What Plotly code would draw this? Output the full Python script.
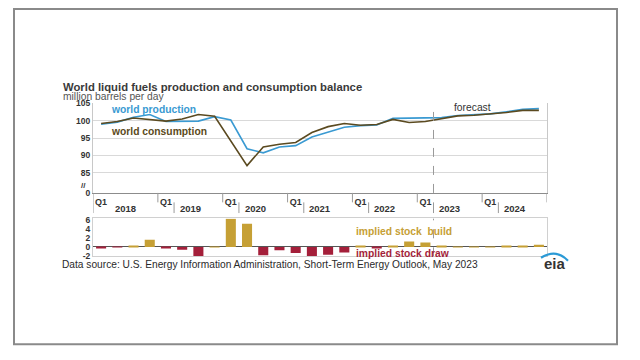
import plotly.graph_objects as go

# ---------------- data ----------------
years = [2018, 2019, 2020, 2021, 2022, 2023, 2024]
quarters = [f"{y}Q{q}" for y in years for q in (1, 2, 3, 4)]

production = [99.0, 99.6, 101.0, 101.8, 99.8, 99.9, 99.9, 101.2, 100.2, 91.9,
              90.7, 92.4, 92.8, 95.3, 96.7, 98.1, 98.6, 98.8, 100.7, 100.8,
              100.8, 100.9, 101.5, 101.7, 102.0, 102.6, 103.3, 103.5]
consumption = [99.2, 99.8, 100.8, 100.3, 99.9, 100.5, 101.8, 101.3, 94.0, 87.0,
               92.4, 93.2, 93.7, 96.6, 98.3, 99.2, 98.7, 98.9, 100.4, 99.5,
               99.8, 100.7, 101.4, 101.6, 101.9, 102.4, 103.0, 103.0]
stock_change = [-0.3, -0.05, 0.3, 1.6, -0.1, -0.6, -2.0, 0.1, 6.2, 5.1,
                -1.8, -0.7, -1.3, -2.0, -1.7, -1.2, 0.2, -0.3, 0.3, 1.2,
                1.0, 0.15, 0.05, 0.05, 0.05, 0.2, 0.3, 0.5]

upper_tickvals = [79.1, 85, 90, 95, 100, 105]
upper_ticktext = ["0", "85", "90", "95", "100", "105"]
lower_tickvals = [-2, 0, 2, 4, 6]
q1_ticks = [f"{y}Q1" for y in years]
forecast_start = 20.5  # between 2023Q1 and 2023Q2 (category index)

# ---------------- style ----------------
W, H = 640, 360
FONT = "Liberation Sans, Arial, sans-serif"
BLUE = "#3a9ad2"
BROWN = "#5b4a20"
GOLD = "#c6a035"
RED = "#a41f3a"
DARK = "#333333"


def X(p):
    return p / W


def Y(p):
    return 1 - p / H


fig = go.Figure()

fig.add_trace(go.Scatter(x=quarters, y=production, mode="lines",
                         line=dict(color=BLUE, width=1.6), xaxis="x", yaxis="y",
                         showlegend=False, hoverinfo="skip"))
fig.add_trace(go.Scatter(x=quarters, y=consumption, mode="lines",
                         line=dict(color=BROWN, width=1.6), xaxis="x", yaxis="y",
                         showlegend=False, hoverinfo="skip"))

bar_colors = [GOLD if v >= 0 else RED for v in stock_change]
fig.add_trace(go.Bar(x=quarters, y=stock_change, marker=dict(color=bar_colors, line=dict(width=0)),
                     width=0.62, xaxis="x2", yaxis="y2", showlegend=False, hoverinfo="skip"))

xdom = [X(93), X(547)]

fig.update_layout(
    width=W, height=H,
    margin=dict(l=0, r=0, t=0, b=0),
    paper_bgcolor="white", plot_bgcolor="white",
    font=dict(family=FONT, size=9, color=DARK),
    xaxis=dict(domain=xdom, type="category", categoryorder="array", categoryarray=quarters,
               range=[-0.5, 27.5], tickmode="array", tickvals=q1_ticks,
               ticktext=["<b>Q1</b>"] * len(q1_ticks), ticks="", showgrid=False,
               showline=True, linecolor="#8c8c8c", linewidth=1, mirror=False,
               tickfont=dict(size=9, color=DARK), anchor="y", zeroline=False),
    yaxis=dict(domain=[Y(193.3), Y(101.3)], range=[79.1, 105], tickmode="array",
               tickvals=upper_tickvals, ticktext=[f"<b>{t}</b>" for t in upper_ticktext],
               showgrid=True, gridcolor="#d9d9d9", gridwidth=1,
               showline=True, linecolor="#c8c8c8", linewidth=1, mirror=True,
               ticks="", tickfont=dict(size=8.5, color=DARK), anchor="x", zeroline=False),
    xaxis2=dict(domain=xdom, type="category", categoryorder="array", categoryarray=quarters,
                range=[-0.5, 27.5], showticklabels=False, ticks="", showgrid=False,
                showline=True, linecolor="#d0d0d0", mirror=True, anchor="y2", zeroline=False),
    yaxis2=dict(domain=[Y(258.5), Y(219.5)], range=[-2.05, 6.25], tickmode="array",
                tickvals=lower_tickvals, ticktext=[f"<b>{v}</b>" for v in lower_tickvals],
                showgrid=False, showline=True, linecolor="#d0d0d0", mirror=True,
                ticks="", tickfont=dict(size=8.5, color=DARK), anchor="x2",
                zeroline=True, zerolinecolor="#555555", zerolinewidth=1.2),
    bargap=0.3,
)

shapes = []
# outer frame
shapes.append(dict(type="rect", xref="paper", yref="paper", x0=X(14), x1=X(617), y0=Y(349), y1=Y(4),
                   line=dict(color="#8a8a8a", width=2), fillcolor="rgba(0,0,0,0)"))
# forecast dashed line in both panels
shapes.append(dict(type="line", xref="x", yref="y", x0=forecast_start, x1=forecast_start,
                   y0=79.1, y1=105, line=dict(color="#9a9a9a", width=1, dash="dash")))
shapes.append(dict(type="line", xref="x2", yref="y2", x0=forecast_start, x1=forecast_start,
                   y0=-2.05, y1=6.25, line=dict(color="#9a9a9a", width=1, dash="dash")))
# Q1 tick marks at year boundaries and year-row separators
for k in range(len(years) + 1):
    xb = 4 * k - 0.5
    shapes.append(dict(type="line", xref="x", yref="paper", x0=xb, x1=xb, y0=Y(203), y1=Y(193.3),
                       line=dict(color="#9a9a9a", width=1)))
shapes.append(dict(type="line", xref="x", yref="paper", x0=-0.5, x1=-0.5, y0=Y(214), y1=Y(203),
                   line=dict(color="#9a9a9a", width=1)))
for k in range(1, len(years)):
    xs = 4 * k + 0.5
    shapes.append(dict(type="line", xref="x", yref="paper", x0=xs, x1=xs, y0=Y(214), y1=Y(203),
                       line=dict(color="#9a9a9a", width=1)))
# eia logo arc
shapes.append(dict(type="path", xref="paper", yref="paper",
                   path=f"M {X(541)} {Y(260)} Q {X(556)} {Y(250)} {X(568)} {Y(263)}",
                   line=dict(color="#2a9ad6", width=2.2)))
fig.update_layout(shapes=shapes)

ann = []


def txt(x, y, s, size=9, color=DARK, xanchor="left", xref="paper"):
    ann.append(dict(x=x, y=y, xref=xref, yref="paper", text=s, showarrow=False,
                    font=dict(size=size, color=color, family=FONT),
                    xanchor=xanchor, yanchor="middle", borderpad=0))


txt(X(62), Y(84), "<b>World liquid fuels production and consumption balance</b>", size=11.3, color="#3a3a3a")
txt(X(62), Y(94), "million barrels per day", size=10.3, color="#555555")
txt(X(110), Y(107), "<b>world production</b>", size=10.3, color=BLUE)
txt(X(110), Y(130.5), "<b>world consumption</b>", size=10.3, color=BROWN)
txt(X(453), Y(105.5), "forecast", size=10.3, color=DARK)
txt(X(355), Y(232.5), "<b>implied stock&nbsp; build</b>", size=10.3, color=GOLD)
txt(X(355), Y(256), "<b>implied stock draw</b>", size=10.3, color=RED)
txt(X(87), Y(186), "<b>//</b>", size=8, color=DARK, xanchor="right")
txt(X(61), Y(266.5), "Data source: U.S. Energy Information Administration, Short-Term Energy Outlook, May 2023",
    size=10.2, color="#2a2a2a")
txt(X(555), Y(266), "<b>eia</b>", size=15, color="#333333", xanchor="center")
for k, yr in enumerate(years):
    txt(4 * k + 1.5, Y(209.5), f"<b>{yr}</b>", size=9.5, color=DARK, xanchor="center", xref="x")

fig.update_layout(annotations=ann)

fig.write_html("out.html", config={"displayModeBar": False},
               post_script="document.body.style.margin='0';document.body.style.padding='0';"
                           "document.documentElement.style.overflow='hidden';")
